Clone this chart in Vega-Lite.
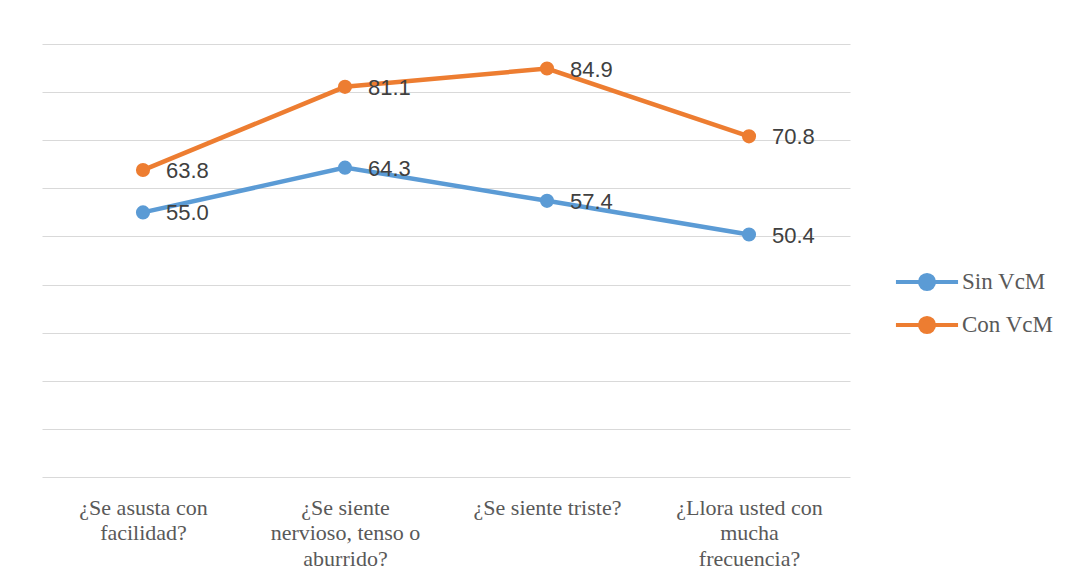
{
  "$schema": "https://vega.github.io/schema/vega-lite/v6.json",
  "width": 808,
  "height": 433,
  "autosize": {"type": "none"},
  "padding": {"left": 42, "top": 44, "right": 241, "bottom": 105},
  "background": "white",
  "config": {"view": {"stroke": null}},
  "data": {
    "values": [
      {"q": "¿Se asusta con|facilidad?", "serie": "Sin VcM", "valor": 55.0},
      {"q": "¿Se siente|nervioso, tenso o|aburrido?", "serie": "Sin VcM", "valor": 64.3},
      {"q": "¿Se siente triste?", "serie": "Sin VcM", "valor": 57.4},
      {"q": "¿Llora usted con|mucha|frecuencia?", "serie": "Sin VcM", "valor": 50.4},
      {"q": "¿Se asusta con|facilidad?", "serie": "Con VcM", "valor": 63.8},
      {"q": "¿Se siente|nervioso, tenso o|aburrido?", "serie": "Con VcM", "valor": 81.1},
      {"q": "¿Se siente triste?", "serie": "Con VcM", "valor": 84.9},
      {"q": "¿Llora usted con|mucha|frecuencia?", "serie": "Con VcM", "valor": 70.8}
    ]
  },
  "encoding": {
    "x": {
      "field": "q", "type": "nominal", "sort": null,
      "scale": {"type": "point", "padding": 0.5},
      "axis": {
        "title": null, "domain": false, "ticks": false, "grid": false,
        "labelAngle": 0, "labelAlign": "center", "labelBaseline": "top",
        "labelPadding": 20, "labelLimit": 0,
        "labelFont": "Liberation Serif", "labelFontSize": 22, "labelColor": "#595959",
        "labelLineHeight": 25.5,
        "labelExpr": "split(datum.label, '|')"
      }
    },
    "y": {
      "field": "valor", "type": "quantitative",
      "scale": {"domain": [0, 90], "nice": false, "zero": true},
      "axis": {
        "title": null, "labels": false, "ticks": false, "domain": false,
        "grid": true, "gridColor": "#d9d9d9", "gridWidth": 1,
        "values": [0, 10, 20, 30, 40, 50, 60, 70, 80, 90]
      }
    },
    "color": {
      "field": "serie", "type": "nominal",
      "scale": {"domain": ["Sin VcM", "Con VcM"], "range": ["#5B9BD5", "#ED7D31"]},
      "legend": {
        "title": null, "orient": "none", "legendX": 868, "legendY": 221,
        "padding": 0,
        "symbolType": "M-2.07,0H2.07M-0.47,0A0.47,0.47 0 1,0 0.47,0A0.47,0.47 0 1,0 -0.47,0Z",
        "symbolSize": 900, "symbolStrokeWidth": 4,
        "rowPadding": 10, "labelOffset": 18,
        "labelFont": "Liberation Serif", "labelFontSize": 23, "labelColor": "#595959",
        "encode": {
          "symbols": {"update": {
            "fill": {"scale": "color", "field": "value"},
            "stroke": {"scale": "color", "field": "value"},
            "strokeWidth": {"value": 4},
            "fillOpacity": {"value": 1}
          }}
        }
      }
    }
  },
  "layer": [
    {"mark": {"type": "line", "strokeWidth": 4.5}},
    {"mark": {"type": "point", "filled": true, "size": 200, "opacity": 1}},
    {
      "mark": {"type": "text", "align": "left", "baseline": "middle", "dx": 23, "dy": 1, "font": "Liberation Sans", "fontSize": 22, "color": "#404040"},
      "encoding": {
        "text": {"field": "valor", "type": "quantitative", "format": ".1f"},
        "color": {"value": "#404040"}
      }
    }
  ]
}
